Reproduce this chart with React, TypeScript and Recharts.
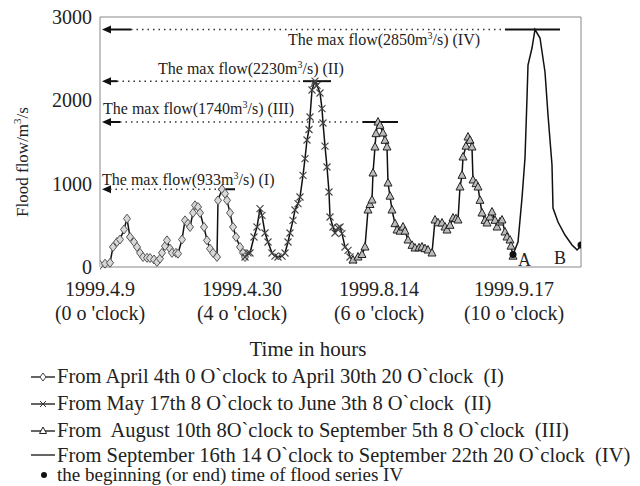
import React from "react";
import {
  ComposedChart,
  Line,
  Scatter,
  XAxis,
  YAxis,
  ReferenceLine,
  ReferenceArea,
  ReferenceDot,
} from "recharts";

// [time index, flow m3/s]
const floodI: [number, number][] = [
  [0, 25], [5, 40], [10, 50], [13, 240], [17, 300], [20, 330], [24, 450], [27, 580],
  [30, 360], [34, 300], [37, 240], [40, 170], [43, 120], [47, 110], [50, 108], [54, 90],
  [57, 60], [60, 100], [62, 170], [65, 250], [67, 320], [70, 220], [72, 170], [76, 170],
  [78, 160], [82, 330], [85, 560], [88, 520], [90, 480], [93, 650], [95, 740], [98, 720],
  [100, 650], [104, 480], [107, 320], [110, 220], [113, 170], [117, 120], [118, 800],
  [122, 933], [125, 880], [127, 800], [130, 650], [133, 480], [136, 360], [140, 240],
  [143, 170], [145, 120],
];

const floodII: [number, number][] = [
  [145, 120], [148, 170], [150, 168], [154, 360], [157, 480], [160, 700], [162, 620],
  [165, 408], [168, 300], [172, 168], [175, 130], [178, 120], [182, 130], [185, 168],
  [188, 300], [190, 408], [193, 560], [195, 684], [198, 760], [200, 840], [203, 1100],
  [205, 1300], [207, 1524], [209, 1650], [210, 1800], [212, 2124], [214, 2200],
  [215, 2230], [217, 2180], [220, 2088], [222, 1900], [223, 1728], [225, 1450],
  [227, 1200], [229, 900], [230, 600], [233, 480], [235, 408], [238, 470], [240, 480],
  [242, 400], [245, 240], [248, 200], [250, 120], [253, 84],
];

const floodIII: [number, number][] = [
  [253, 84], [258, 120], [262, 150], [265, 240], [268, 684], [270, 750], [272, 804],
  [273, 1128], [275, 1440], [276, 1600], [278, 1740], [280, 1700], [283, 1608],
  [285, 1520], [287, 1440], [288, 1008], [290, 850], [292, 684], [295, 520], [297, 444],
  [300, 430], [303, 480], [305, 430], [308, 324], [312, 260], [315, 228], [319, 230],
  [322, 240], [325, 220], [328, 204], [332, 168], [335, 564], [338, 530], [342, 528],
  [345, 480], [347, 444], [350, 500], [353, 588], [356, 580], [358, 564], [360, 960],
  [362, 1100], [363, 1320], [366, 1450], [368, 1560], [370, 1520], [372, 1440],
  [373, 1044], [376, 1000], [378, 960], [380, 800], [382, 648], [385, 560], [387, 528],
  [390, 600], [392, 660], [395, 560], [397, 480], [400, 540], [402, 564], [405, 420],
  [407, 360], [410, 324], [411, 250], [413, 130],
];

const floodIV: [number, number][] = [
  [413, 150], [418, 300], [422, 828], [425, 1308], [427, 2028], [428, 2424], [432, 2628],
  [435, 2850], [440, 2748], [445, 2340], [448, 1824], [452, 1224], [453, 708], [458, 540],
  [465, 384], [472, 264], [475, 230], [477, 204], [480, 240], [481, 264],
];

const startEnd = [
  { t: 413, flow: 150, name: "A" },
  { t: 481, flow: 264, name: "B" },
];

const tickTimes = [0, 142, 279, 414];
const tickDates = ["1999.4.9", "1999.4.30", "1999.8.14", "1999.9.17"];
const tickHours = ["(0 o 'clock)", "(4 o 'clock)", "(6 o 'clock)", "(10 o 'clock)"];

const peakFlows = [2850, 2230, 1740, 933];
const peakNames = ["IV", "II", "III", "I"];

const legendLabels = [
  "From April 4th 0 O`clock to April 30th 20 O`clock  (I)",
  "From May 17th 8 O`clock to June 3th 8 O`clock  (II)",
  "From  August 10th 8O`clock to September 5th 8 O`clock  (III)",
  "From September 16th 14 O`clock to September 22th 20 O`clock  (IV)",
  "the beginning (or end) time of flood series IV",
];

// layout of the peak annotations (time index units)
const peakLayout = [
  { shaftEnd: 31, barStart: 405, barEnd: 460, textAt: 188, dy: 15 },
  { shaftEnd: 17, barStart: 203, barEnd: 231, textAt: 58, dy: -7 },
  { shaftEnd: 20, barStart: 263, barEnd: 298, textAt: 3, dy: -8 },
  { shaftEnd: 10, barStart: 118, barEnd: 135, textAt: 2, dy: -4 },
];
const legendRowHeights = [27, 27, 27, 22, 18];

const toRows = (pts: [number, number][]) => pts.map(([t, flow]) => ({ t, flow }));

const FONT = '"Liberation Serif", "Times New Roman", serif';

const Diamond = (p: any) => {
  const { cx, cy, index } = p;
  if (cx == null || cy == null) return <g key={`d${index}`} />;
  return (
    <path
      key={`d${index}`}
      d={`M${cx},${cy - 4.5}L${cx + 3.5},${cy}L${cx},${cy + 4.5}L${cx - 3.5},${cy}Z`}
      fill="#d8d8d8"
      stroke="#555"
      strokeWidth={1}
    />
  );
};

const Cross = (p: any) => {
  const { cx, cy, index } = p;
  if (cx == null || cy == null) return <g key={`x${index}`} />;
  return (
    <path
      key={`x${index}`}
      d={`M${cx - 3.5},${cy - 3.5}L${cx + 3.5},${cy + 3.5}M${cx - 3.5},${cy + 3.5}L${cx + 3.5},${cy - 3.5}`}
      stroke="#444"
      strokeWidth={1.1}
    />
  );
};

const Triangle = (p: any) => {
  const { cx, cy, index } = p;
  if (cx == null || cy == null) return <g key={`t${index}`} />;
  return (
    <path
      key={`t${index}`}
      d={`M${cx},${cy - 4.5}L${cx + 4},${cy + 3}L${cx - 4},${cy + 3}Z`}
      fill="#bbb"
      stroke="#222"
      strokeWidth={1}
    />
  );
};

const ArrowShaft = (p: any) => {
  const { x1, y1, x2 } = p;
  return (
    <g>
      <line x1={x1 + 6} y1={y1} x2={x2} y2={y1} stroke="#111" strokeWidth={2} />
      <path d={`M${x1},${y1}L${x1 + 9},${y1 - 4}L${x1 + 9},${y1 + 4}Z`} fill="#111" />
    </g>
  );
};

const XTick = (p: any) => {
  const { x, y, index } = p;
  return (
    <g>
      <text x={x} y={y + 21} textAnchor="middle" fontSize={20} fontFamily={FONT} fill="#222">
        {tickDates[index]}
      </text>
      <text x={x} y={y + 45} textAnchor="middle" fontSize={20} fontFamily={FONT} fill="#222">
        {tickHours[index]}
      </text>
    </g>
  );
};

const LegendIcon = ({ kind }: { kind: number }) => (
  <svg width={26} height={14} style={{ display: "block", flexShrink: 0 }}>
    {kind < 4 && <line x1={1} y1={7} x2={25} y2={7} stroke="#111" strokeWidth={1.3} />}
    {kind === 0 && <path d="M13,3L16,7L13,11L10,7Z" fill="#fff" stroke="#444" />}
    {kind === 1 && <path d="M10,4L16,10M10,10L16,4" stroke="#333" />}
    {kind === 2 && <path d="M13,3L16.5,9.5L9.5,9.5Z" fill="#fff" stroke="#222" />}
    {kind === 4 && <circle cx={14} cy={7} r={3} fill="#111" />}
  </svg>
);

export default function App() {
  return (
    <div style={{ position: "absolute", left: 0, top: 0, width: 640, height: 486, background: "#fff", overflow: "hidden" }}>
      <ComposedChart
        width={640}
        height={486}
        margin={{ top: 17, right: 59, left: 50, bottom: 159 }}
        style={{ fontFamily: FONT }}
      >
        <XAxis
          dataKey="t"
          type="number"
          domain={[0, 481]}
          ticks={tickTimes}
          tick={<XTick />}
          tickLine={false}
          axisLine={false}
          height={60}
          allowDataOverflow
          label={{
            content: (lp: any) => (
              <text
                x={lp.viewBox.x + 208}
                y={lp.viewBox.y + 89}
                textAnchor="middle"
                fontSize={21}
                fontFamily={FONT}
                fill="#222"
              >
                Time in hours
              </text>
            ),
          }}
        />
        <YAxis
          type="number"
          domain={[0, 3000]}
          ticks={[0, 1000, 2000, 3000]}
          tickLine={false}
          axisLine={false}
          width={50}
          tick={{ fontSize: 20, fill: "#222", fontFamily: FONT }}
          label={{
            content: (lp: any) => {
              const cx = lp.viewBox.x - 22;
              const cy = lp.viewBox.y + 145;
              return (
                <text
                  x={cx}
                  y={cy}
                  transform={`rotate(-90, ${cx}, ${cy})`}
                  textAnchor="middle"
                  fontSize={17}
                  fontFamily={FONT}
                  fill="#222"
                >
                  Flood flow/m<tspan fontSize={11} dy={-7}>3</tspan>
                  <tspan dy={7}>/s</tspan>
                </text>
              );
            },
          }}
        />
        <ReferenceArea x1={0} x2={481} y1={0} y2={3000} fill="none" stroke="#888" strokeWidth={1} />

        {peakFlows.map((v, i) => {
          const L = peakLayout[i];
          return (
            <React.Fragment key={`peak${i}`}>
              <ReferenceLine
                segment={[{ x: 2, y: v }, { x: L.shaftEnd, y: v }]}
                shape={<ArrowShaft />}
              />
              <ReferenceLine
                segment={[{ x: L.shaftEnd, y: v }, { x: L.barStart, y: v }]}
                stroke="#333"
                strokeWidth={1.5}
                strokeDasharray="1.5 4"
              />
              <ReferenceLine
                segment={[{ x: L.barStart, y: v }, { x: L.barEnd, y: v }]}
                stroke="#111"
                strokeWidth={2}
              />
              <ReferenceDot
                x={L.textAt}
                y={v}
                shape={(sp: any) => (
                  <text x={sp.cx} y={sp.cy + L.dy} fontSize={16} fontFamily={FONT} fill="#222">
                    The max flow({v}m<tspan fontSize={10} dy={-6}>3</tspan>
                    <tspan dy={6}>/s) ({peakNames[i]})</tspan>
                  </text>
                )}
              />
            </React.Fragment>
          );
        })}

        <Line
          data={toRows(floodI)}
          dataKey="flow"
          type="linear"
          stroke="#111"
          strokeWidth={1.5}
          dot={Diamond}
          activeDot={false}
          isAnimationActive={false}
        />
        <Line
          data={toRows(floodII)}
          dataKey="flow"
          type="linear"
          stroke="#111"
          strokeWidth={1.5}
          dot={Cross}
          activeDot={false}
          isAnimationActive={false}
        />
        <Line
          data={toRows(floodIII)}
          dataKey="flow"
          type="linear"
          stroke="#111"
          strokeWidth={1.5}
          dot={Triangle}
          activeDot={false}
          isAnimationActive={false}
        />
        <Line
          data={toRows(floodIV)}
          dataKey="flow"
          type="linear"
          stroke="#111"
          strokeWidth={1.5}
          dot={false}
          activeDot={false}
          isAnimationActive={false}
        />
        <Scatter
          data={startEnd}
          dataKey="flow"
          isAnimationActive={false}
          shape={(sp: any) => {
            const isA = sp.payload.name === "A";
            return (
              <g>
                <circle cx={sp.cx} cy={sp.cy} r={3.5} fill="#111" />
                <text
                  x={isA ? sp.cx + 5 : sp.cx - 15}
                  y={isA ? sp.cy + 11 : sp.cy + 19}
                  textAnchor={isA ? "start" : "end"}
                  fontSize={18}
                  fontFamily={FONT}
                  fill="#222"
                >
                  {sp.payload.name}
                </text>
              </g>
            );
          }}
        />
      </ComposedChart>

      <div
        style={{
          position: "absolute",
          left: 30,
          top: 363,
          fontFamily: FONT,
          fontSize: 20.5,
          color: "#222",
        }}
      >
        {legendLabels.map((label, i) => (
          <div
            key={label}
            style={{ display: "flex", alignItems: "center", height: legendRowHeights[i], whiteSpace: "pre" }}
          >
            <LegendIcon kind={i} />
            <span
              style={{
                marginLeft: 1,
                lineHeight: `${legendRowHeights[i]}px`,
                fontSize: i === 4 ? 19 : undefined,
              }}
            >
              {label}
            </span>
          </div>
        ))}
      </div>
    </div>
  );
}
